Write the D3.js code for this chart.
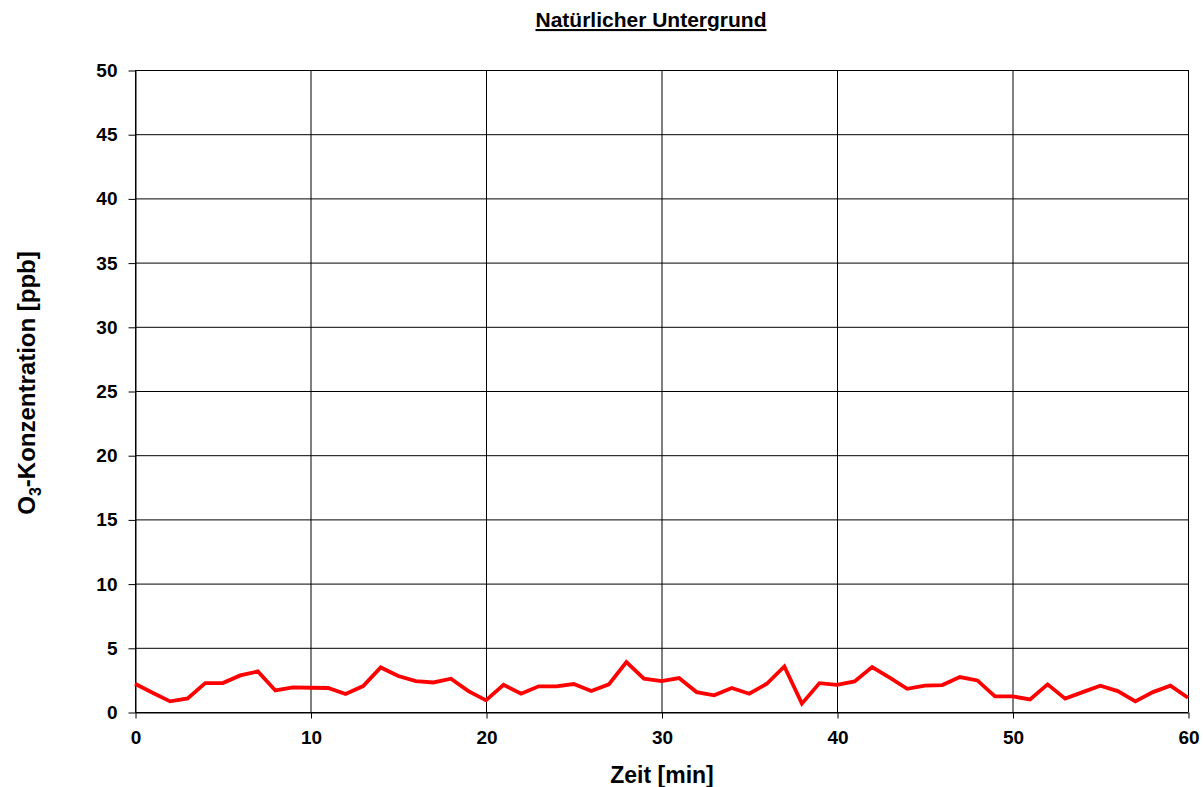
<!DOCTYPE html>
<html><head><meta charset="utf-8">
<script src="https://cdn.jsdelivr.net/npm/d3@7"></script>
<style>body{margin:0;background:#fff}svg{display:block;font-family:"Liberation Sans",Arial,sans-serif}</style>
</head><body>
<script>
const title = "Natürlicher Untergrund";
const xLabel = "Zeit [min]";
const minutes = d3.range(0, 61);
const ozone = [2.2,1.5,0.83,1.06,2.25,2.25,2.85,3.16,1.68,1.92,1.89,1.87,1.4,2.02,3.47,
  2.8,2.41,2.3,2.59,1.63,0.91,2.12,1.42,2.0,2.0,2.18,1.63,2.15,3.89,2.59,
  2.41,2.64,1.55,1.3,1.87,1.42,2.2,3.55,0.65,2.25,2.12,2.38,3.5,2.67,1.81,
  2.05,2.1,2.72,2.46,1.22,1.22,0.98,2.15,1.04,1.55,2.05,1.63,0.83,1.55,2.05,1.11];
const xTicks = [0,10,20,30,40,50,60];
const yTicks = [0,5,10,15,20,25,30,35,40,45,50];

const W = 1203, H = 787;
const m = {left:135, right:1188, top:70, bottom:712};
const svg = d3.select("body").append("svg").attr("width",W).attr("height",H);
const x = d3.scaleLinear().domain([0,60]).range([m.left,m.right]);
const y = d3.scaleLinear().domain([0,50]).range([m.bottom,m.top]);

// grid
svg.append("g").selectAll("line").data(yTicks).join("line")
  .attr("x1",m.left).attr("x2",m.right).attr("y1",d=>y(d)+0.5).attr("y2",d=>y(d)+0.5)
  .attr("stroke","#000").attr("stroke-width",1);
svg.append("g").selectAll("line").data(xTicks).join("line")
  .attr("y1",m.top).attr("y2",m.bottom).attr("x1",d=>x(d)+0.5).attr("x2",d=>x(d)+0.5)
  .attr("stroke","#000").attr("stroke-width",1);

// axes
const ya = svg.append("g").attr("transform",`translate(${m.left+0.5},0.5)`)
  .call(d3.axisLeft(y).tickValues(yTicks).tickSize(7).tickPadding(11).tickSizeOuter(0));
const xa = svg.append("g").attr("transform",`translate(0.5,${m.bottom+0.5})`)
  .call(d3.axisBottom(x).tickValues(xTicks).tickSize(6).tickPadding(12).tickSizeOuter(0));
[ya,xa].forEach(a=>{
  a.select(".domain").attr("stroke","#000");
  a.selectAll(".tick line").attr("stroke","#000");
  a.selectAll("text").attr("font-size",19).attr("font-weight","bold").attr("fill","#000")
   .attr("font-family","'Liberation Sans',Arial,sans-serif");
});

// line
svg.append("path").datum(minutes.map((t,i)=>[t,ozone[i]]))
  .attr("fill","none").attr("stroke","#ff0000").attr("stroke-width",3.8)
  .attr("stroke-linejoin","miter")
  .attr("d",d3.line().x(d=>x(d[0])).y(d=>y(d[1])));

// title
svg.append("text").attr("x",651).attr("y",27).attr("text-anchor","middle")
  .attr("font-size",21).attr("font-weight","bold").attr("text-decoration","underline")
  .text(title);

// x label
svg.append("text").attr("x",662).attr("y",783).attr("text-anchor","middle")
  .attr("font-size",23).attr("font-weight","bold").text(xLabel);

// y label
const yl = svg.append("text").attr("transform",`translate(35,383) rotate(-90)`)
  .attr("text-anchor","middle").attr("font-size",24).attr("font-weight","bold");
yl.append("tspan").text("O");
yl.append("tspan").attr("font-size",16).attr("dy",6).text("3");
yl.append("tspan").attr("dy",-6).text("-Konzentration [ppb]");
</script>
</body></html>
